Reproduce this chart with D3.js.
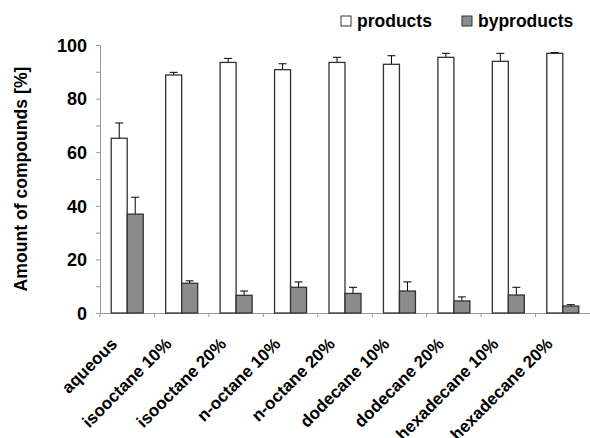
<!DOCTYPE html>
<html><head><meta charset="utf-8">
<script src="https://cdn.jsdelivr.net/npm/d3@7/dist/d3.min.js"></script>
<style>body{margin:0;background:#fff}svg{display:block}text{font-family:Arial,"Liberation Sans",sans-serif;font-weight:bold;fill:#000}</style>
</head><body>
<svg id="c" width="590" height="438"></svg>
<script>
const categories = ["aqueous","isooctane 10%","isooctane 20%","n-octane 10%","n-octane 20%","dodecane 10%","dodecane 20%","hexadecane 10%","hexadecane 20%"];
const products = [65.2, 88.8, 93.5, 90.8, 93.5, 92.8, 95.4, 93.9, 96.9];
const productsErr = [5.7, 1.0, 1.5, 2.2, 1.9, 3.2, 1.5, 3.0, 0.3];
const byproducts = [36.9, 11.1, 6.6, 9.6, 7.3, 8.2, 4.5, 6.7, 2.6];
const byproductsErr = [6.3, 0.9, 1.6, 2.0, 2.3, 3.4, 1.5, 2.9, 0.5];
const seriesNames = ["products","byproducts"];
const yTicks = [0,20,40,60,80,100];

(function(){
const svg = d3.select("#c");
const mLeft = 100, mRight = 590, mTop = 45, mBottom = 313;
const x = d3.scaleBand().domain(categories).range([mLeft, mRight]);
const y = d3.scaleLinear().domain([0,100]).range([mBottom, mTop]);
const barW = 16;
const fills = ["#ffffff", "#8c8c8c"];
const data = [products, byproducts];
const errs = [productsErr, byproductsErr];

// y axis
const ya = svg.append("g").attr("transform", `translate(${mLeft},0)`)
  .call(d3.axisLeft(y).tickValues(d3.range(0,101,10)).tickSize(4).tickFormat(d => yTicks.includes(d) ? d : ""));
ya.select(".domain").attr("stroke", "#999");
ya.selectAll(".tick line").attr("stroke", "#999");
ya.selectAll(".tick text").attr("font-size", 18).attr("x", -13).attr("dy", "0.35em")
  .style("font-family", "Arial, 'Liberation Sans', sans-serif").style("font-weight", "bold");

// x axis
const xa = svg.append("g").attr("transform", `translate(0,${mBottom})`)
  .call(d3.axisBottom(x).tickSize(0).tickFormat(""));
xa.select(".domain").attr("stroke", "#999");
xa.selectAll(".tick").remove();
xa.selectAll(".bound").data(d3.range(categories.length)).enter().append("line")
  .attr("x1", i => x(categories[i])).attr("x2", i => x(categories[i]))
  .attr("y1", 0).attr("y2", 4).attr("stroke", "#999");

// labels
svg.append("g").selectAll("text").data(categories).enter().append("text")
  .attr("text-anchor", "end").attr("font-size", 17)
  .attr("transform", d => `translate(${x(d) + x.bandwidth()/2 - 9},${mBottom + 32}) rotate(-45)`)
  .text(d => d);

// bars
data.forEach((vals, s) => {
  const g = svg.append("g");
  categories.forEach((c, i) => {
    const cx = x(c) + x.bandwidth()/2;
    const bx = cx - barW + s*barW;
    const mid = bx + barW/2;
    g.append("line").attr("x1", mid).attr("x2", mid)
      .attr("y1", y(vals[i])).attr("y2", y(vals[i] + errs[s][i])).attr("stroke", "#000").attr("stroke-width", 1);
    g.append("line").attr("x1", mid - 4).attr("x2", mid + 4)
      .attr("y1", y(vals[i] + errs[s][i])).attr("y2", y(vals[i] + errs[s][i])).attr("stroke", "#000").attr("stroke-width", 1);
    g.append("rect").attr("x", bx).attr("y", y(vals[i])).attr("width", barW).attr("height", y(0) - y(vals[i]))
      .attr("fill", fills[s]).attr("stroke", "#333").attr("stroke-width", 1.3);
  });
});

// legend
const legX = [341, 462];
seriesNames.forEach((n, i) => {
  svg.append("rect").attr("x", legX[i]).attr("y", 16).attr("width", 10).attr("height", 10)
    .attr("fill", fills[i]).attr("stroke", "#333").attr("stroke-width", 1);
  svg.append("text").attr("x", legX[i] + 16).attr("y", 27).attr("font-size", 17.5).text(n);
});

// y label
svg.append("text").attr("text-anchor", "middle").attr("font-size", 17.6)
  .attr("transform", `translate(27,179) rotate(-90)`).text("Amount of compounds [%]");
})();
</script>
</body></html>
